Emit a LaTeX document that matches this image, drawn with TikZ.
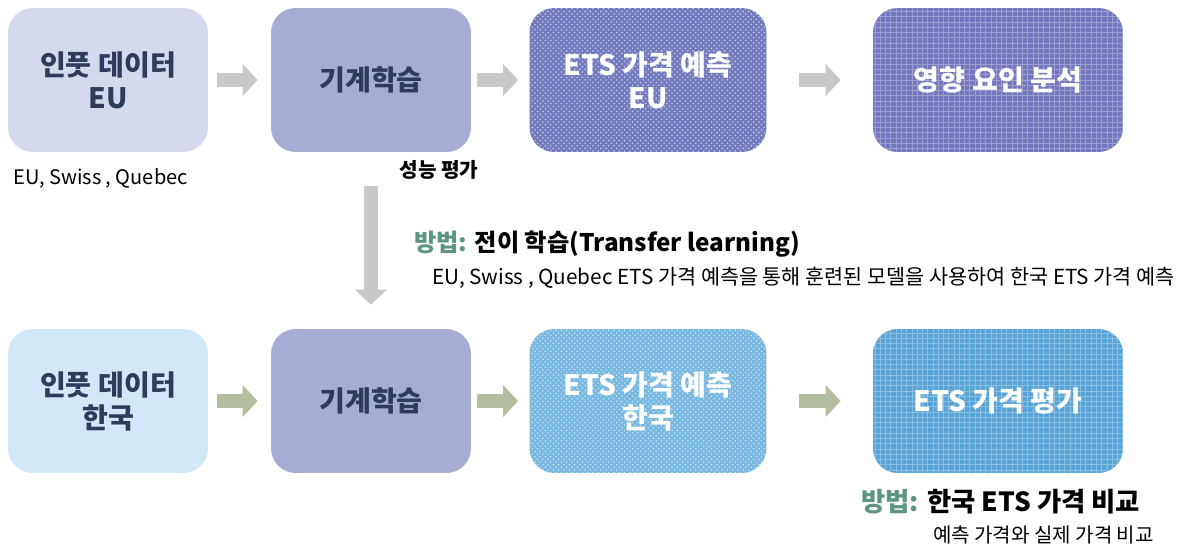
\documentclass[tikz,border=0pt]{standalone}
\usepackage{fontspec}
\setmainfont{Noto Sans CJK KR}
\usetikzlibrary{positioning,calc,arrows.meta,patterns}

\definecolor{inEU}{HTML}{D5D9EE}
\definecolor{mlbox}{HTML}{A7ACD5}
\definecolor{predEU}{HTML}{737BBE}
\definecolor{factor}{HTML}{7476BE}
\definecolor{inKR}{HTML}{D0E8F7}
\definecolor{predKR}{HTML}{78B8E0}
\definecolor{evalKR}{HTML}{58A4D6}
\definecolor{titletxt}{HTML}{2E3B5D}
\definecolor{method}{HTML}{5E9580}
\definecolor{grayarr}{HTML}{C8C8C8}
\definecolor{sagearr}{HTML}{B3BE9F}

\tikzset{
  box/.style={rounded corners=14pt, minimum width=4cm, minimum height=2.88cm,
    align=center, text=titletxt, font=\bfseries\fontsize{16}{18.8}\selectfont},
  darkbox/.style={box, text=white},
  dotted box/.style={postaction={pattern=crosshatch dots, pattern color=white!60!#1}},
  grid box/.style={postaction={pattern=grid, pattern color=white!30!#1}},
  fat/.style={line width=0.28cm, -{Triangle[width=0.62cm,length=0.3cm]}},
  note/.style={font=\fontsize{11.4}{13}\selectfont},
}

\begin{document}
\begin{tikzpicture}[x=0.02cm, y=-0.02cm]
\useasboundingbox (0,0) rectangle (1184,549);

% EU row
\node[box, fill=inEU] (in1) at (108,80) {인풋 데이터\\EU};
\node[box, fill=mlbox] (ml1) at (371,80) {기계학습};
\node[darkbox, fill=predEU, dotted box=predEU, minimum width=4.74cm] (pr1) at (648,80) {ETS 가격 예측\\EU};
\node[darkbox, fill=factor, grid box=factor, minimum width=5cm] (fa1) at (998,80) {영향 요인 분석};

\draw[fat, grayarr] ([xshift=0.18cm]in1.east) -- ([xshift=-0.26cm]ml1.west);
\draw[fat, grayarr] ([xshift=0.12cm]ml1.east) -- ([xshift=-0.22cm]pr1.west);
\draw[fat, grayarr] ([xshift=0.64cm]pr1.east) -- ([xshift=-0.64cm]fa1.west);

\node[note, anchor=west] (src1) at (7,178) {EU, Swiss , Quebec};
\node[font=\bfseries\fontsize{11.5}{13}\selectfont] (perf) at (439,170) {성능 평가};

% Korea row
\node[box, fill=inKR] (in2) at (108,401) {인풋 데이터\\한국};
\node[box, fill=mlbox] (ml2) at (371,401) {기계학습};
\node[darkbox, fill=predKR, dotted box=predKR, minimum width=4.74cm] (pr2) at (648,401) {ETS 가격 예측\\한국};
\node[darkbox, fill=evalKR, grid box=evalKR, minimum width=5cm] (ev2) at (998,401) {ETS 가격 평가};

\draw[fat, sagearr] ([xshift=0.18cm]in2.east) -- ([xshift=-0.26cm]ml2.west);
\draw[fat, sagearr] ([xshift=0.12cm]ml2.east) -- ([xshift=-0.22cm]pr2.west);
\draw[fat, sagearr] ([xshift=0.64cm]pr2.east) -- ([xshift=-0.64cm]ev2.west);

% transfer
\draw[fat, grayarr] ([yshift=-0.68cm]ml1.south) -- ([yshift=0.48cm]ml2.north);

\node[anchor=west, font=\bfseries\fontsize{13.8}{15}\selectfont] (tl) at (408,244)
  {\textcolor{method}{방법:} 전이 학습(Transfer learning)};
\node[anchor=west, font=\fontsize{11.8}{13}\selectfont] (tlnote) at (426,278)
  {EU, Swiss , Quebec ETS 가격 예측을 통해 훈련된 모델을 사용하여 한국 ETS 가격 예측};

\node[anchor=west, font=\bfseries\fontsize{15}{16}\selectfont] (cmp) at (855,502)
  {\textcolor{method}{방법:} 한국 ETS 가격 비교};
\node[note, anchor=east] (cmpnote) at (1160,535) {예측 가격와 실제 가격 비교};
\end{tikzpicture}
\end{document}
